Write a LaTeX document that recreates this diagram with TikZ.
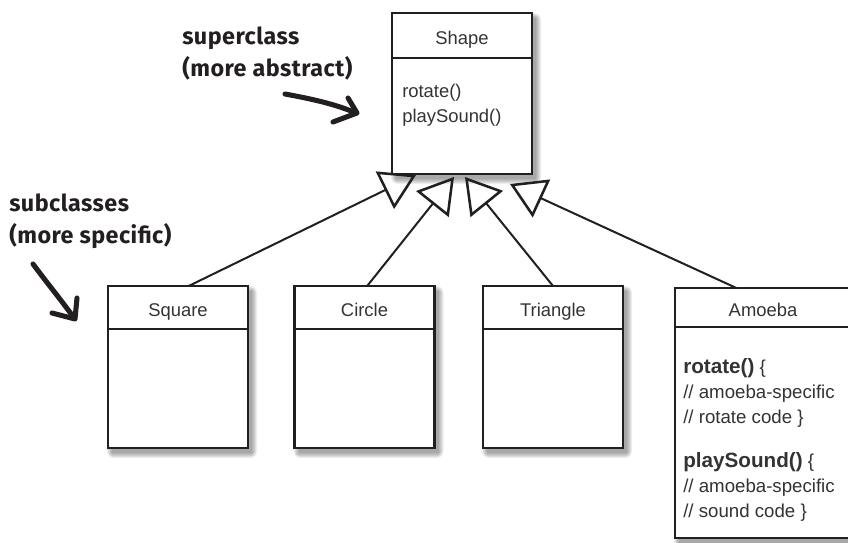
\documentclass[tikz,border=0pt]{standalone}
\usepackage{fontspec}
\setmainfont{Liberation Sans}
\newfontfamily\mano{Fira Sans}[LetterSpace=2]
\usetikzlibrary{positioning,arrows.meta,calc,backgrounds}
\definecolor{tinta}{HTML}{231F20}
\definecolor{texto}{HTML}{333333}

\tikzset{
  clase/.style={draw=tinta, line width=1.9pt, fill=white, outer sep=0pt, inner sep=0pt,
    minimum width=105pt, minimum height=32.25pt, text=texto, text height=14pt, text depth=0pt,
    font=\fontsize{13.8}{18.75}\selectfont},
  cuerpo/.style={clase, minimum height=89.25pt},
  metodos/.style={anchor=north west, inner sep=0pt, align=left, text=texto,
    font=\fontsize{13.8}{18.75}\selectfont},
  herencia/.style={draw=tinta, line width=1.5pt,
    -{Triangle[open, length=26pt, width=31pt, line width=1.9pt]}},
  nota/.style={anchor=north west, inner sep=0pt, align=left, text=tinta,
    font=\mano\bfseries\fontsize{17.5}{24}\selectfont},
  garabato/.style={draw=tinta, line width=3.8pt, line cap=round, line join=round},
  sombra/.style={fill=black, opacity=0.065}
}

\begin{document}
\begin{tikzpicture}[x=0.75pt, y=0.75pt]
        \useasboundingbox (0,0) rectangle (848,-542);
        % superclase
        \node[clase, minimum height=33.75pt] (shape) at (462,-35.5) {Shape};
        \node[cuerpo, minimum height=87pt, below=0pt of shape] (shape body) {};
        \node[metodos] (shape met) at (402,-84) {rotate()\\playSound()};
        % subclases
        \node[clase] (square) at (178,-307.5) {Square};
        \node[cuerpo, below=0pt of square] (square body) {};
        \node[clase] (circle) at (364.5,-307.5) {Circle};
        \node[cuerpo, below=0pt of circle] (circle body) {};
        \node[clase] (triangle) at (553,-307.5) {Triangle};
        \node[cuerpo, below=0pt of triangle] (triangle body) {};
        \node[clase, minimum width=132pt, minimum height=29.25pt] (amoeba) at (763,-307.5) {Amoeba};
        \node[cuerpo, minimum width=132pt, minimum height=158.25pt, below=0pt of amoeba] (amoeba body) {};
        \node[metodos, font=\fontsize{14}{18.75}\selectfont] (am rotate) at (683,-358)
          {{\fontsize{15.5}{18.75}\selectfont\bfseries rotate()} \{\\// amoeba-specific\\// rotate code \}};
        \node[metodos, font=\fontsize{14}{18.75}\selectfont] (am sound) at (683,-452)
          {{\fontsize{15.5}{18.75}\selectfont\bfseries playSound()} \{\\// amoeba-specific\\// sound code \}};
        % sombras
        \begin{scope}[on background layer]
          \foreach \cab/\cue in {shape/shape body, square/square body, circle/circle body,
              triangle/triangle body, amoeba/amoeba body}
            \foreach \d in {0,...,5}
              \fill[sombra, rounded corners=\d pt] ($(\cab.north west)+(4-\d,-5+\d)$)
                rectangle ($(\cue.south east)+(4+\d,-5-\d)$);
        \end{scope}
        % herencia
        \draw[herencia] ([xshift=8pt]square.north) -- ($(shape body.south west)+(24,-1)$);
        \draw[herencia] ([xshift=2pt]circle.north) -- ($(shape body.south west)+(62,-3)$);
        \draw[herencia] (triangle.north) -- ($(shape body.south west)+(73,-3)$);
        \draw[herencia] ([xshift=-20pt]amoeba.north) -- ($(shape body.south west)+(118,-10)$);
        % notas a mano
        \node[nota] (sup nota) at (182,-27) {superclass\\(more abstract)};
        \node[nota] (sub nota) at (9,-194) {subclasses\\(more specific)};
        \draw[garabato] (285,-94) .. controls (312,-99) and (335,-104) .. (356,-113);
        \draw[garabato] (348,-98) -- (357,-113) -- (333,-122);
        \draw[garabato] (33,-264) .. controls (47,-283) and (62,-301) .. (74,-318);
        \draw[garabato] (77,-298) -- (75,-319) -- (52,-313);
      \end{tikzpicture}
\end{document}
